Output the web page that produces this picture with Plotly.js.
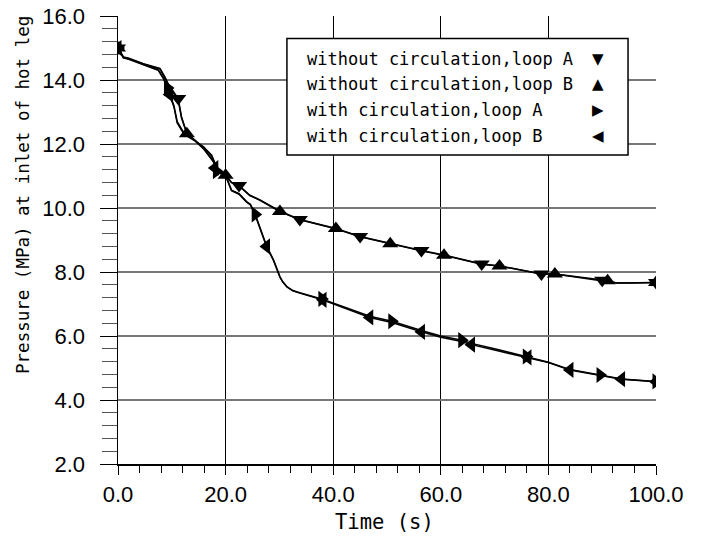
<!DOCTYPE html>
<html>
<head>
<meta charset="utf-8">
<script src="https://cdn.plot.ly/plotly-3.0.1.min.js"></script>
<style>html,body{margin:0;padding:0;background:#fff;}#chart{width:703px;height:542px;}</style>
</head>
<body>
<div id="chart"></div>
<script>
// ---- line data (time s, pressure MPa) ----
var tWithoutA = [0,0.5,1.0,2.0,4.7,7.8,8.7,9.4,10.3,11.2,11.8,12.8,14.6,15.9,17.4,18.4,20.0,21.1,22.5,24.5,26.4,28.0,30.1,33.8,40.3,45.0,50.6,56.4,60.6,67.6,70.9,78.7,81.2,87.0,90.5,92.7,96.0,100];
var pWithoutA = [15.0,14.85,14.72,14.68,14.51,14.36,14.10,13.85,13.62,13.42,12.85,12.33,12.07,11.91,11.65,11.25,11.03,10.80,10.70,10.40,10.25,10.10,9.90,9.64,9.37,9.11,8.89,8.67,8.53,8.25,8.19,7.94,7.94,7.82,7.74,7.66,7.67,7.67];
var tWithoutB = [0,0.5,1.0,2.0,4.7,7.8,8.7,9.4,10.3,11.2,11.8,12.8,14.6,15.9,17.4,18.4,20.0,21.1,22.5,24.5,26.4,28.0,30.1,33.8,40.3,45.0,50.6,56.4,60.6,67.6,70.9,78.7,81.2,87.0,90.5,92.7,96.0,100];
var pWithoutB = [15.0,14.84,14.71,14.67,14.50,14.34,14.08,13.83,13.58,13.36,12.82,12.32,12.06,11.90,11.63,11.24,11.02,10.79,10.69,10.39,10.24,10.09,9.89,9.63,9.36,9.10,8.88,8.66,8.52,8.24,8.19,7.94,7.94,7.81,7.73,7.66,7.66,7.67];
var tWithA = [0,0.5,1.0,2.0,4.7,7.5,8.5,9.2,10.4,11.0,12.3,14.3,16.0,17.8,18.4,20.0,21.1,22.5,23.9,24.6,25.1,25.5,27.6,28.9,30.1,30.6,31.4,32.5,33.8,36.3,38.0,46.8,50.9,56.4,60.0,63.9,65.7,70.0,75.9,80.0,84.0,89.6,93.6,100];
var pWithA = [15.0,14.85,14.70,14.66,14.48,14.31,14.05,13.75,13.20,12.70,12.33,12.12,11.85,11.45,11.13,11.02,10.56,10.45,10.20,10.12,9.95,9.80,8.82,8.38,7.85,7.70,7.54,7.42,7.35,7.23,7.15,6.62,6.46,6.17,6.00,5.87,5.77,5.60,5.36,5.18,4.95,4.78,4.66,4.58];
var tWithB = [0,0.5,1.0,2.0,4.7,7.5,8.5,9.2,10.4,11.0,12.3,14.3,16.0,17.8,18.4,20.0,21.1,22.5,23.9,24.6,25.1,25.5,27.6,28.9,30.1,30.6,31.4,32.5,33.8,36.3,38.0,46.8,50.9,56.4,60.0,63.9,65.7,70.0,75.9,80.0,84.0,89.6,93.6,100];
var pWithB = [15.0,14.84,14.69,14.65,14.47,14.30,14.03,13.72,13.16,12.66,12.30,12.10,11.83,11.43,11.12,11.01,10.54,10.43,10.18,10.10,9.93,9.78,8.80,8.36,7.84,7.69,7.53,7.41,7.34,7.21,7.13,6.58,6.42,6.13,5.96,5.83,5.73,5.56,5.34,5.17,4.94,4.77,4.65,4.57];

// ---- marker data ----
var mtWithoutA = [0,11.2,22.5,33.8,45.0,56.4,67.6,78.7,90.0,100];
var mpWithoutA = [15.0,13.42,10.70,9.64,9.11,8.67,8.25,7.94,7.74,7.67];
var mtWithoutB = [0,12.8,20.0,30.1,40.5,50.6,60.6,70.9,81.2,91.0,100];
var mpWithoutB = [15.0,12.32,11.02,9.89,9.36,8.88,8.52,8.19,7.94,7.73,7.67];
var mtWithA = [0,9.2,18.3,25.5,37.9,50.9,63.9,75.9,89.6,100];
var mpWithA = [15.0,13.75,11.15,9.80,7.16,6.46,5.87,5.36,4.78,4.58];
var mtWithB = [0,9.6,18.0,27.6,38.1,46.8,56.4,65.7,76.2,84.0,93.6,100];
var mpWithB = [15.0,13.55,11.25,8.80,7.13,6.58,6.13,5.73,5.33,4.94,4.65,4.57];

// ---- labels ----
var seriesNames = ["without circulation,loop A","without circulation,loop B","with circulation,loop A","with circulation,loop B"];
var seriesGlyphs = ["\u25BC","\u25B2","\u25B6","\u25C0"];
var xTitle = "Time (s)";
var yTitle = "Pressure (MPa) at inlet of hot leg";

var lineStyle = {color:'#000', width:1.5};
function lineTrace(t,p){return {x:t,y:p,mode:'lines',line:lineStyle,hoverinfo:'skip',showlegend:false};}
function markTrace(t,p,sym){return {x:t,y:p,mode:'markers',marker:{symbol:sym,size:14,color:'#000',line:{width:0}},showlegend:false};}

var data = [
  lineTrace(tWithoutA,pWithoutA), lineTrace(tWithoutB,pWithoutB),
  lineTrace(tWithA,pWithA), lineTrace(tWithB,pWithB),
  markTrace(mtWithoutA,mpWithoutA,'triangle-down'),
  markTrace(mtWithoutB,mpWithoutB,'triangle-up'),
  markTrace(mtWithA,mpWithA,'triangle-right'),
  markTrace(mtWithB,mpWithB,'triangle-left')
];

var monoFont = {family:'DejaVu Sans Mono', size:17, color:'#000'};
var annotations = [
  {xref:'paper',yref:'paper',x:-0.177,y:0.60,text:yTitle,textangle:-90,showarrow:false,xanchor:'center',yanchor:'middle',font:{family:'DejaVu Sans Mono',size:17.5,color:'#000'}},
  {xref:'paper',yref:'paper',x:0.496,y:-0.129,text:xTitle,showarrow:false,xanchor:'center',yanchor:'middle',font:{family:'DejaVu Sans Mono',size:20.5,color:'#000'}}
];
var rowY = [0.904,0.848,0.790,0.732];
for (var i=0;i<4;i++){
  annotations.push({xref:'paper',yref:'paper',x:0.3476,y:rowY[i],text:seriesNames[i],showarrow:false,xanchor:'left',yanchor:'middle',font:monoFont});
  annotations.push({xref:'paper',yref:'paper',x:0.892,y:rowY[i],text:seriesGlyphs[i],showarrow:false,xanchor:'center',yanchor:'middle',font:{family:'DejaVu Sans',size:15,color:'#000'}});
}

var layout = {
  width:703, height:542,
  margin:{l:118,r:47,t:16,b:78,pad:0},
  paper_bgcolor:'#fff', plot_bgcolor:'#fff',
  showlegend:false,
  font:{family:'Liberation Sans, Arial', color:'#000'},
  xaxis:{range:[0,100],dtick:20,tick0:0,tickformat:'.1f',ticks:'outside',ticklen:9,tickwidth:1,tickcolor:'#000',
    showgrid:true,gridcolor:'#000',gridwidth:1,zeroline:false,showline:true,linecolor:'#000',linewidth:1.5,
    tickfont:{family:'Liberation Sans',size:22,color:'#000'},ticklabelstandoff:1,
    minor:{dtick:4,ticks:'outside',ticklen:7,tickcolor:'#000',tickwidth:1,showgrid:false}},
  yaxis:{range:[2,16],dtick:2,tick0:0,tickformat:'.1f',ticks:'outside',ticklen:17,tickwidth:1,tickcolor:'#000',
    showgrid:true,gridcolor:'#777',gridwidth:1.5,zeroline:false,showline:true,linecolor:'#000',linewidth:1.5,
    tickfont:{family:'Liberation Sans',size:22,color:'#000'},ticklabelstandoff:10,
    minor:{dtick:0.4,ticks:'outside',ticklen:15,tickcolor:'#555',tickwidth:1,showgrid:false}},
  shapes:[
    {type:'rect',xref:'paper',yref:'paper',x0:0.314,x1:0.948,y0:0.6895,y1:0.950,fillcolor:'#fff',line:{color:'#000',width:1.5},layer:'above'}
  ],
  annotations:annotations
};

Plotly.newPlot('chart',data,layout,{displayModeBar:false,staticPlot:true});
</script>
</body>
</html>
